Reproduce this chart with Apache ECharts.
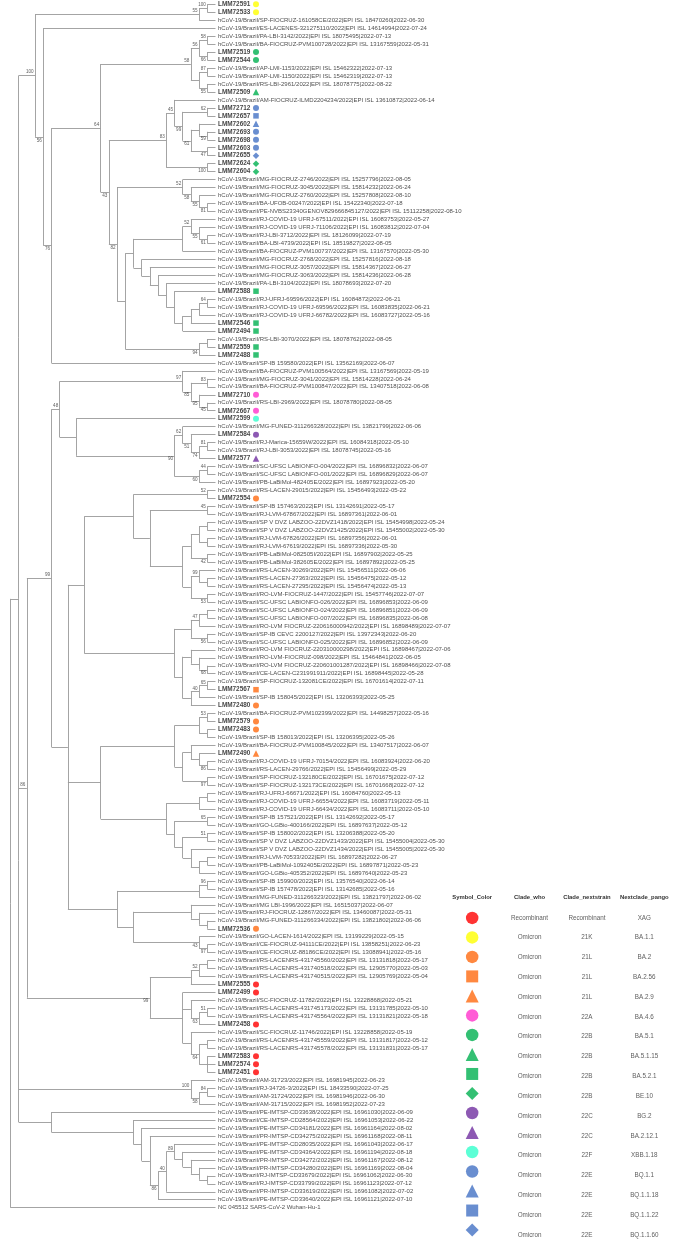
<!DOCTYPE html>
<html><head><meta charset="utf-8">
<script src="https://cdn.jsdelivr.net/npm/echarts@6/dist/echarts.min.js"></script>
<style>html,body{margin:0;padding:0;background:#fff}#c{width:673px;height:1239px}</style>
</head><body><div id="c"></div>
<script>
const leafNames = [
'LMM72591','LMM72533',
'hCoV-19/Brazil/SP-FIOCRUZ-161058CE/2022|EPI ISL 18470260|2022-06-30',
'hCoV-19/Brazil/ES-LACENES-321275110/2022|EPI ISL 14614994|2022-07-24',
'hCoV-19/Brazil/PA-LBI-3142/2022|EPI ISL 18075495|2022-07-13',
'hCoV-19/Brazil/BA-FIOCRUZ-PVM100728/2022|EPI ISL 13167559|2022-05-31',
'LMM72519','LMM72544',
'hCoV-19/Brazil/AP-LMI-1153/2022|EPI ISL 15462322|2022-07-13',
'hCoV-19/Brazil/AP-LMI-1150/2022|EPI ISL 15462319|2022-07-13',
'hCoV-19/Brazil/RS-LBI-2961/2022|EPI ISL 18078775|2022-08-22',
'LMM72509',
'hCoV-19/Brazil/AM-FIOCRUZ-ILMD2204234/2022|EPI ISL 13610872|2022-06-14',
'LMM72712','LMM72657','LMM72602','LMM72693','LMM72698','LMM72603','LMM72655','LMM72624','LMM72604',
'hCoV-19/Brazil/MG-FIOCRUZ-2746/2022|EPI ISL 15257796|2022-08-05',
'hCoV-19/Brazil/MG-FIOCRUZ-3045/2022|EPI ISL 15814232|2022-06-24',
'hCoV-19/Brazil/MG-FIOCRUZ-2760/2022|EPI ISL 15257808|2022-08-10',
'hCoV-19/Brazil/BA-UFOB-00247/2022|EPI ISL 15422340|2022-07-18',
'hCoV-19/Brazil/PE-NVBS23340GENOV829666845127/2022|EPI ISL 15112258|2022-08-10',
'hCoV-19/Brazil/RJ-COVID-19 UFRJ-67511/2022|EPI ISL 16083753|2022-05-27',
'hCoV-19/Brazil/RJ-COVID-19 UFRJ-71106/2022|EPI ISL 16083812|2022-07-04',
'hCoV-19/Brazil/RJ-LBI-3712/2022|EPI ISL 18126099|2022-07-19',
'hCoV-19/Brazil/BA-LBI-4739/2022|EPI ISL 18519827|2022-08-05',
'hCoV-19/Brazil/BA-FIOCRUZ-PVM100737/2022|EPI ISL 13167570|2022-05-30',
'hCoV-19/Brazil/MG-FIOCRUZ-2768/2022|EPI ISL 15257816|2022-08-18',
'hCoV-19/Brazil/MG-FIOCRUZ-3057/2022|EPI ISL 15814367|2022-06-27',
'hCoV-19/Brazil/MG-FIOCRUZ-3063/2022|EPI ISL 15814236|2022-06-28',
'hCoV-19/Brazil/PA-LBI-3104/2022|EPI ISL 18078693|2022-07-20',
'LMM72588',
'hCoV-19/Brazil/RJ-UFRJ-69596/2022|EPI ISL 16084872|2022-06-21',
'hCoV-19/Brazil/RJ-COVID-19 UFRJ-69596/2022|EPI ISL 16083835|2022-06-21',
'hCoV-19/Brazil/RJ-COVID-19 UFRJ-66782/2022|EPI ISL 16083727|2022-05-16',
'LMM72546','LMM72494',
'hCoV-19/Brazil/RS-LBI-3070/2022|EPI ISL 18078762|2022-08-05',
'LMM72559','LMM72488',
'hCoV-19/Brazil/SP-IB 159580/2022|EPI ISL 13562169|2022-06-07',
'hCoV-19/Brazil/BA-FIOCRUZ-PVM100564/2022|EPI ISL 13167569|2022-05-19',
'hCoV-19/Brazil/MG-FIOCRUZ-3041/2022|EPI ISL 15814228|2022-06-24',
'hCoV-19/Brazil/BA-FIOCRUZ-PVM100847/2022|EPI ISL 13407518|2022-06-08',
'LMM72710',
'hCoV-19/Brazil/RS-LBI-2969/2022|EPI ISL 18078780|2022-08-05',
'LMM72667','LMM72599',
'hCoV-19/Brazil/MG-FUNED-311266328/2022|EPI ISL 13821799|2022-06-06',
'LMM72584',
'hCoV-19/Brazil/RJ-Marica-15659W/2022|EPI ISL 16084318|2022-05-10',
'hCoV-19/Brazil/RJ-LBI-3053/2022|EPI ISL 18078745|2022-05-16',
'LMM72577',
'hCoV-19/Brazil/SC-UFSC LABIONFO-004/2022|EPI ISL 16896832|2022-06-07',
'hCoV-19/Brazil/SC-UFSC LABIONFO-001/2022|EPI ISL 16896829|2022-06-07',
'hCoV-19/Brazil/PB-LaBiMol-482405E/2022|EPI ISL 16897923|2022-05-20',
'hCoV-19/Brazil/RS-LACEN-29015/2022|EPI ISL 15456493|2022-05-22',
'LMM72554',
'hCoV-19/Brazil/SP-IB 157463/2022|EPI ISL 13142691|2022-05-17',
'hCoV-19/Brazil/RJ-LVM-67867/2022|EPI ISL 16897361|2022-06-01',
'hCoV-19/Brazil/SP V DVZ LABZOO-22DVZ1418/2022|EPI ISL 15454998|2022-05-24',
'hCoV-19/Brazil/SP V DVZ LABZOO-22DVZ1425/2022|EPI ISL 15455002|2022-05-30',
'hCoV-19/Brazil/RJ-LVM-67826/2022|EPI ISL 16897356|2022-06-01',
'hCoV-19/Brazil/RJ-LVM-67619/2022|EPI ISL 16897336|2022-05-30',
'hCoV-19/Brazil/PB-LaBiMol-082505I/2022|EPI ISL 16897902|2022-05-25',
'hCoV-19/Brazil/PB-LaBiMol-382605E/2022|EPI ISL 16897892|2022-05-25',
'hCoV-19/Brazil/RS-LACEN-30269/2022|EPI ISL 15456511|2022-06-06',
'hCoV-19/Brazil/RS-LACEN-27363/2022|EPI ISL 15456475|2022-05-12',
'hCoV-19/Brazil/RS-LACEN-27295/2022|EPI ISL 15456474|2022-05-13',
'hCoV-19/Brazil/RO-LVM-FIOCRUZ-1447/2022|EPI ISL 15457746|2022-07-07',
'hCoV-19/Brazil/SC-UFSC LABIONFO-026/2022|EPI ISL 16896853|2022-06-09',
'hCoV-19/Brazil/SC-UFSC LABIONFO-024/2022|EPI ISL 16896851|2022-06-09',
'hCoV-19/Brazil/SC-UFSC LABIONFO-007/2022|EPI ISL 16896835|2022-06-08',
'hCoV-19/Brazil/RO-LVM FIOCRUZ-220616000942/2022|EPI ISL 16898489|2022-07-07',
'hCoV-19/Brazil/SP-IB CEVC 2200127/2022|EPI ISL 13972343|2022-06-20',
'hCoV-19/Brazil/SC-UFSC LABIONFO-025/2022|EPI ISL 16896852|2022-06-09',
'hCoV-19/Brazil/RO-LVM FIOCRUZ-220310000298/2022|EPI ISL 16898467|2022-07-06',
'hCoV-19/Brazil/RO-LVM-FIOCRUZ-098/2022|EPI ISL 15464841|2022-06-05',
'hCoV-19/Brazil/RO-LVM FIOCRUZ-220601001287/2022|EPI ISL 16898466|2022-07-08',
'hCoV-19/Brazil/CE-LACEN-C231991911/2022|EPI ISL 16898445|2022-05-28',
'hCoV-19/Brazil/SP-FIOCRUZ-132081CE/2022|EPI ISL 16701614|2022-07-11',
'LMM72567',
'hCoV-19/Brazil/SP-IB 158045/2022|EPI ISL 13206393|2022-05-25',
'LMM72480',
'hCoV-19/Brazil/BA-FIOCRUZ-PVM102399/2022|EPI ISL 14498257|2022-05-16',
'LMM72579','LMM72483',
'hCoV-19/Brazil/SP-IB 158013/2022|EPI ISL 13206395|2022-05-26',
'hCoV-19/Brazil/BA-FIOCRUZ-PVM100845/2022|EPI ISL 13407517|2022-06-07',
'LMM72490',
'hCoV-19/Brazil/RJ-COVID-19 UFRJ-70154/2022|EPI ISL 16083924|2022-06-20',
'hCoV-19/Brazil/RS-LACEN-29766/2022|EPI ISL 15456499|2022-05-29',
'hCoV-19/Brazil/SP-FIOCRUZ-132180CE/2022|EPI ISL 16701675|2022-07-12',
'hCoV-19/Brazil/SP-FIOCRUZ-132173CE/2022|EPI ISL 16701668|2022-07-12',
'hCoV-19/Brazil/RJ-UFRJ-66671/2022|EPI ISL 16084760|2022-05-13',
'hCoV-19/Brazil/RJ-COVID-19 UFRJ-66554/2022|EPI ISL 16083719|2022-05-11',
'hCoV-19/Brazil/RJ-COVID-19 UFRJ-66434/2022|EPI ISL 16083711|2022-05-10',
'hCoV-19/Brazil/SP-IB 157521/2022|EPI ISL 13142692|2022-05-17',
'hCoV-19/Brazil/GO-LGBio-400166/2022|EPI ISL 16897637|2022-05-12',
'hCoV-19/Brazil/SP-IB 158002/2022|EPI ISL 13206388|2022-05-20',
'hCoV-19/Brazil/SP V DVZ LABZOO-22DVZ1433/2022|EPI ISL 15455004|2022-05-30',
'hCoV-19/Brazil/SP V DVZ LABZOO-22DVZ1434/2022|EPI ISL 15455005|2022-05-30',
'hCoV-19/Brazil/RJ-LVM-70533/2022|EPI ISL 16897282|2022-06-27',
'hCoV-19/Brazil/PB-LaBiMol-1092405E/2022|EPI ISL 16897871|2022-05-23',
'hCoV-19/Brazil/GO-LGBio-405352/2022|EPI ISL 16897640|2022-05-23',
'hCoV-19/Brazil/SP-IB 159900/2022|EPI ISL 13576540|2022-06-14',
'hCoV-19/Brazil/SP-IB 157478/2022|EPI ISL 13142685|2022-05-16',
'hCoV-19/Brazil/MG-FUNED-311266323/2022|EPI ISL 13821797|2022-06-02',
'hCoV-19/Brazil/MG LBI-1996/2022|EPI ISL 16515037|2022-06-07',
'hCoV-19/Brazil/RJ-FIOCRUZ-12867/2022|EPI ISL 13460087|2022-05-31',
'hCoV-19/Brazil/MG-FUNED-311266334/2022|EPI ISL 13821802|2022-06-06',
'LMM72536',
'hCoV-19/Brazil/GO-LACEN-1614/2022|EPI ISL 13199229|2022-05-15',
'hCoV-19/Brazil/CE-FIOCRUZ-94111CE/2022|EPI ISL 13858251|2022-06-23',
'hCoV-19/Brazil/CE-FIOCRUZ-88186CE/2022|EPI ISL 13088941|2022-05-16',
'hCoV-19/Brazil/RS-LACENRS-431745560/2022|EPI ISL 13131818|2022-05-17',
'hCoV-19/Brazil/RS-LACENRS-431740518/2022|EPI ISL 12905770|2022-05-03',
'hCoV-19/Brazil/RS-LACENRS-431740515/2022|EPI ISL 12905769|2022-05-04',
'LMM72555','LMM72499',
'hCoV-19/Brazil/SC-FIOCRUZ-11782/2022|EPI ISL 13228868|2022-05-21',
'hCoV-19/Brazil/RS-LACENRS-431745173/2022|EPI ISL 13131785|2022-05-10',
'hCoV-19/Brazil/RS-LACENRS-431745564/2022|EPI ISL 13131821|2022-05-18',
'LMM72458',
'hCoV-19/Brazil/SC-FIOCRUZ-11746/2022|EPI ISL 13228858|2022-05-19',
'hCoV-19/Brazil/RS-LACENRS-431745559/2022|EPI ISL 13131817|2022-05-12',
'hCoV-19/Brazil/RS-LACENRS-431745578/2022|EPI ISL 13131831|2022-05-17',
'LMM72583','LMM72574','LMM72451',
'hCoV-19/Brazil/AM-31723/2022|EPI ISL 16981945|2022-06-23',
'hCoV-19/Brazil/RJ-34726-3/2022|EPI ISL 18433590|2022-07-25',
'hCoV-19/Brazil/AM-31724/2022|EPI ISL 16981946|2022-06-30',
'hCoV-19/Brazil/AM-31715/2022|EPI ISL 16981952|2022-07-23',
'hCoV-19/Brazil/PE-IMTSP-CD33638/2022|EPI ISL 16961030|2022-06-09',
'hCoV-19/Brazil/CE-IMTSP-CD28564/2022|EPI ISL 16961053|2022-06-22',
'hCoV-19/Brazil/PE-IMTSP-CD34181/2022|EPI ISL 16961164|2022-08-02',
'hCoV-19/Brazil/PR-IMTSP-CD34275/2022|EPI ISL 16961168|2022-08-11',
'hCoV-19/Brazil/PE-IMTSP-CD28035/2022|EPI ISL 16961043|2022-06-17',
'hCoV-19/Brazil/PE-IMTSP-CD34364/2022|EPI ISL 16961194|2022-08-18',
'hCoV-19/Brazil/PR-IMTSP-CD34272/2022|EPI ISL 16961167|2022-08-12',
'hCoV-19/Brazil/PR-IMTSP-CD34280/2022|EPI ISL 16961169|2022-08-04',
'hCoV-19/Brazil/RJ-IMTSP-CD33679/2022|EPI ISL 16961062|2022-06-30',
'hCoV-19/Brazil/RJ-IMTSP-CD33799/2022|EPI ISL 16961123|2022-07-12',
'hCoV-19/Brazil/PR-IMTSP-CD33619/2022|EPI ISL 16961082|2022-07-02',
'hCoV-19/Brazil/PE-IMTSP-CD33640/2022|EPI ISL 16961121|2022-07-10',
'NC 045512 SARS-CoV-2 Wuhan-Hu-1'
];

// lineage of each sampled (LMM) sequence
const leafLineage = {
'LMM72591':'BA.1.1','LMM72533':'BA.1.1','LMM72519':'BA.5.1','LMM72544':'BA.5.1','LMM72509':'BA.5.1.15',
'LMM72712':'BQ.1.1','LMM72657':'BQ.1.1.22','LMM72602':'BQ.1.1.18','LMM72693':'BQ.1.1','LMM72698':'BQ.1.1',
'LMM72603':'BQ.1.1','LMM72655':'BQ.1.1.60','LMM72624':'BE.10','LMM72604':'BE.10','LMM72588':'BA.5.2.1',
'LMM72546':'BA.5.2.1','LMM72494':'BA.5.2.1','LMM72559':'BA.5.2.1','LMM72488':'BA.5.2.1','LMM72710':'BA.4.6',
'LMM72667':'BA.4.6','LMM72599':'XBB.1.18','LMM72584':'BG.2','LMM72577':'BA.2.12.1','LMM72554':'BA.2',
'LMM72567':'BA.2.56','LMM72480':'BA.2','LMM72579':'BA.2','LMM72483':'BA.2','LMM72490':'BA.2.9',
'LMM72536':'BA.2','LMM72555':'XAG','LMM72499':'XAG','LMM72458':'XAG','LMM72583':'XAG','LMM72574':'XAG','LMM72451':'XAG'
};

// sub-trees (Newick): leaves = 1-based indices into leafNames; ")NN" = bootstrap; "@k" = node level (steps from the tips) when set
const cBA1   = '((1,2)100,3)55';
const cBA5a  = '(((5,6)58,(7,8)66)56,((9,10)87,(11,12)55))58';
const cBQ    = '((13,((14,15)62,((16,(17,18)59),(19,20)47)61)99)45,(21,22)100)83';
const cB23   = '(23,(24,(25,(26,27)81)55)58)52';
const cB28   = '((28,(29,(30,31)61)55)52,32)';
const cB33   = '(33,(34,(35,(36,(37,((((38,39)64,40),41),42))))))';
const cB43   = '((43,44),45)94';
const cBA46  = '(47,((48,49)83,(50,(51,52)45)95)85)97';
const cBA212 = '((54,(55,((56,57)81,58)74)51)62,((59,60)44,61)60)90';
const cBA2a  = '((62,63)52,((64,65)45,((((66,67),(68,69)),(70,71)42),((72,(73,74))99,(75,76)53)))@8)@10';
const cBA2b  = '((((77,78),79)47,(80,81)56),((82,(83,(84,85)68)),(((86,87)65,88)40,89)))';
const cBA2c  = '(((90,91)53,(92,93)),((94,(95,(96,97)86)),(98,99)97))';
const cBA2d  = '(((100,101),102),((103,104)65,((105,106)51,(107,((108,109),110)))))';
const cBA2e  = '(((111,112)96,113),((114,(115,(116,117))),(118,(119,120)97)43)@10)@12';
const cXAG   = '((((121,122),123)52,124),(125,(126,((127,128)51,129)63),(130,((131,132),(133,134,135))64)))99@8';
const cAM    = '(136,((137,138)84,139)58)100';
const cIMTSP = '(140,(141,(142,(143,(((144,(145,(146,(147,(148,149)))))89,150)40,151)86))))@20';

const nBA5  = `(${cBA5a},(${cBQ},(${cB23},((${cB28},${cB33}),${cB43}))82)43)64`;
const nTop  = `(${cBA1},(4,(${nBA5},46)76@20)56@21)100@22`;
const nBA2  = `((${cBA2a},${cBA2b})@16,(${cBA2c},${cBA2d})@14,${cBA2e})@18`;
const nMid  = `(((${cBA46},(53,${cBA212})@17)48@19,${nBA2})99@20,${cXAG})86@23`;
const treeNewick = `((${nTop},${nMid},${cAM},${cIMTSP})@24,152)@25`;

const legendHeaders = ['Symbol_Color','Clade_who','Clade_nextstrain','Nextclade_pango'];
const legendPango = ['XAG','BA.1.1','BA.2','BA.2.56','BA.2.9','BA.4.6','BA.5.1','BA.5.1.15','BA.5.2.1','BE.10','BG.2','BA.2.12.1','XBB.1.18','BQ.1.1','BQ.1.1.18','BQ.1.1.22','BQ.1.1.60'];
const legendWho = ['Recombinant','Omicron','Omicron','Omicron','Omicron','Omicron','Omicron','Omicron','Omicron','Omicron','Omicron','Omicron','Omicron','Omicron','Omicron','Omicron','Omicron'];
const legendNextstrain = ['Recombinant','21K','21L','21L','21L','22A','22B','22B','22B','22B','22C','22C','22F','22E','22E','22E','22E'];
const legendColors = ['#FF0000','#FFFF00','#FF6A10','#FF6A10','#FF6A10','#FF33CC','#00B050','#00B050','#00B050','#00B050','#7030A0','#7030A0','#33FFCC','#4472C4','#4472C4','#4472C4','#4472C4'];
const legendShapes = ['circle','circle','circle','rect','triangle','circle','circle','triangle','rect','diamond','circle','triangle','circle','circle','triangle','rect','diamond'];

// ---------- parse & layout ----------
function parseNewick(str){
  const s = str.replace(/\s+/g,'');
  let i = 0;
  function num(){ let t=''; while (i < s.length && /[0-9]/.test(s[i])) t += s[i++]; return t; }
  function node(){
    if (s[i] === '('){
      i++;
      const ch = [node()];
      while (s[i] === ','){ i++; ch.push(node()); }
      i++;
      const lab = num();
      let lvl = null;
      if (s[i] === '@'){ i++; lvl = +num(); }
      return {children: ch, bs: lab, lvl: lvl};
    }
    return {leaf: (+num()) - 1};
  }
  return node();
}
const root = parseNewick(treeNewick);
function layout(n){
  if (n.leaf !== undefined){ n.y = n.leaf; n.h = 0; return; }
  n.children.forEach(layout);
  n.h = n.lvl !== null ? n.lvl : 1 + Math.max(...n.children.map(c => c.h));
  n.y = (n.children[0].y + n.children[n.children.length-1].y) / 2;
}
layout(root);
const ROOT_DEPTH = root.h;
const segs = [], bsLabels = [];
function collect(n){
  if (!n.children) return;
  const x = -n.h;
  segs.push({coords: [[x, n.children[0].y], [x, n.children[n.children.length-1].y]]});
  n.children.forEach((c, k) => {
    segs.push({coords: [[x, c.y], [-c.h, c.y]]});
    if (c.bs){
      const below = (k === n.children.length - 1) && k > 0;
      bsLabels.push({value: [-c.h, c.y, c.bs], label: {offset: [0, below ? 3.4 : -3.4]}});
    }
    collect(c);
  });
}
collect(root);

const leafData = leafNames.map((nm, i) => ({value: [0, i], name: nm}));
const symbolSeries = legendPango.map((p, r) => ({
  type: 'scatter', xAxisIndex: 0, yAxisIndex: 0, silent: true,
  symbol: legendShapes[r],
  symbolSize: legendShapes[r] === 'rect' ? 5.5 : (legendShapes[r] === 'circle' ? 6 : 6.5),
  symbolOffset: [40.5, 0],
  itemStyle: {color: legendColors[r]},
  data: leafNames.map((nm, i) => leafLineage[nm] === p ? [0, i] : null).filter(d => d)
}));

const legSym = legendPango.map((p, r) => ({
  value: [0, r], symbol: legendShapes[r],
  symbolSize: legendShapes[r] === 'rect' ? 12 : (legendShapes[r] === 'circle' ? 12.5 : 13),
  symbolOffset: [0, -r * 0.3],
  itemStyle: {color: legendColors[r]}
}));
function textCol(col, arr){
  return {
    type: 'scatter', xAxisIndex: 1, yAxisIndex: 1, silent: true, symbolSize: 0,
    data: arr.map((t, r) => [col, r, t]),
    label: {show: true, position: 'inside', formatter: p => p.value[2],
      fontFamily: 'Liberation Sans', fontSize: 6.3, color: '#333'}
  };
}

const chart = echarts.init(document.getElementById('c'), null, {renderer: 'canvas'});
chart.setOption({
  animation: false,
  backgroundColor: '#fff',
  grid: [
    {left: 10.5, top: 0.3, width: 205, height: 1211.4},
    {left: 443.5, top: 905, width: 236, height: 333.8}
  ],
  xAxis: [
    {type: 'value', min: -ROOT_DEPTH, max: 0, show: false, gridIndex: 0},
    {type: 'category', gridIndex: 1, data: legendHeaders, position: 'top',
     axisLine: {show: false}, axisTick: {show: false}, splitLine: {show: false},
     axisLabel: {margin: 5, fontFamily: 'Liberation Sans', fontSize: 5.9, fontWeight: 'bold', color: '#333', interval: 0}}
  ],
  yAxis: [
    {type: 'value', min: -0.5, max: 151.5, inverse: true, show: false, gridIndex: 0},
    {type: 'value', min: -0.65, max: 16.2, inverse: true, show: false, gridIndex: 1}
  ],
  series: [
    {type: 'lines', coordinateSystem: 'cartesian2d', xAxisIndex: 0, yAxisIndex: 0, silent: true,
     lineStyle: {color: '#9a9a9a', width: 0.9, opacity: 1}, data: segs},
    {type: 'scatter', xAxisIndex: 0, yAxisIndex: 0, silent: true, symbolSize: 0, data: leafData,
     label: {show: true, position: 'right', distance: 2.5,
       formatter: p => leafLineage[p.name] ? '{b|' + p.name + '}' : p.name,
       fontFamily: 'Liberation Sans', fontSize: 6, color: '#222',
       rich: {b: {fontFamily: 'Liberation Sans', fontSize: 6.4, fontWeight: 'bold', color: '#111'}}}},
    {type: 'scatter', xAxisIndex: 0, yAxisIndex: 0, silent: true, symbolSize: 0, data: bsLabels,
     label: {show: true, position: 'left', distance: 1.5, formatter: p => p.value[2],
       fontFamily: 'Liberation Sans', fontSize: 4.6, color: '#333'}},
    ...symbolSeries,
    {type: 'scatter', xAxisIndex: 1, yAxisIndex: 1, silent: true, data: legSym},
    textCol(1, legendWho), textCol(2, legendNextstrain), textCol(3, legendPango)
  ]
});
</script></body></html>
